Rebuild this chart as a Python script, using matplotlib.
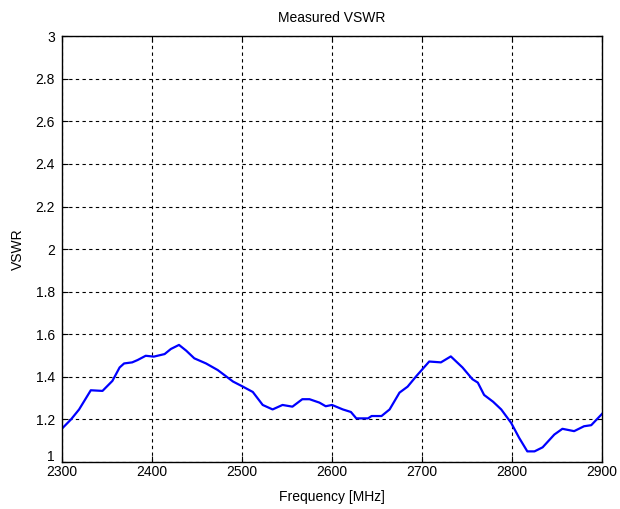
import matplotlib
matplotlib.use("Agg")
import matplotlib.pyplot as plt
import matplotlib.transforms as mtransforms

freq = [2300, 2310, 2319, 2332, 2345, 2356, 2364, 2369, 2378, 2384, 2393, 2402, 2414,
        2421, 2430, 2438, 2447, 2460, 2473, 2490, 2501, 2512, 2523, 2534, 2545, 2556,
        2567, 2575, 2586, 2593, 2600, 2612, 2621, 2627, 2640, 2644, 2655, 2664, 2675,
        2684, 2694, 2708, 2721, 2732, 2745, 2756, 2762, 2769, 2779, 2788, 2799, 2808,
        2817, 2825, 2834, 2847, 2856, 2869, 2880, 2888, 2900]
vswr = [1.157, 1.20, 1.247, 1.337, 1.334, 1.381, 1.444, 1.463, 1.468, 1.479, 1.499, 1.495, 1.507,
        1.531, 1.55, 1.523, 1.487, 1.463, 1.432, 1.378, 1.354, 1.329, 1.268, 1.247, 1.268, 1.26,
        1.295, 1.295, 1.279, 1.262, 1.268, 1.247, 1.235, 1.205, 1.205, 1.216, 1.216, 1.247, 1.326,
        1.354, 1.405, 1.472, 1.468, 1.496, 1.444, 1.389, 1.373, 1.315, 1.283, 1.247, 1.184, 1.113,
        1.05, 1.05, 1.069, 1.129, 1.156, 1.145, 1.168, 1.173, 1.226]
xticks = [2300, 2400, 2500, 2600, 2700, 2800, 2900]
yticks = [1, 1.2, 1.4, 1.6, 1.8, 2, 2.2, 2.4, 2.6, 2.8, 3]
ylabels = ["1", "1.2", "1.4", "1.6", "1.8", "2", "2.2", "2.4", "2.6", "2.8", "3"]

plt.rcParams['font.family'] = ['Liberation Sans', 'DejaVu Sans']
plt.rcParams['font.size'] = 10

fig = plt.figure(figsize=(6.2, 5.09), dpi=100)
ax = fig.add_axes([0.1, 0.0923, 0.871, 0.8366])
ax.plot(freq, vswr, color=(0, 0, 1), linewidth=1.6)
ax.set_xlim(2300, 2900)
ax.set_ylim(1, 3)
ax.set_xticks(xticks)
ax.set_xticklabels([str(t) for t in xticks])
ax.set_yticks(yticks)
ax.set_yticklabels(ylabels)
ax.grid(True, color='black', linestyle=(0, (3, 3)), linewidth=0.8)
ax.tick_params(direction='in', top=True, right=True, length=4, labelsize=10)
ax.tick_params(axis='x', pad=2)
ax.tick_params(axis='y', pad=5)
for s in ax.spines.values():
    s.set_linewidth(1.0)
# nudge the bottom y tick label up so it does not collide with the first x label
first = ax.get_yticklabels()[0]
first.set_transform(first.get_transform() + mtransforms.ScaledTranslation(0, 5 / 72, fig.dpi_scale_trans))
ax.set_title("Measured VSWR", fontsize=10, pad=10)
ax.set_xlabel("Frequency [MHz]", fontsize=10, labelpad=8)
ax.set_ylabel("VSWR", fontsize=10, labelpad=8)
fig.savefig("out.png", dpi=100)
